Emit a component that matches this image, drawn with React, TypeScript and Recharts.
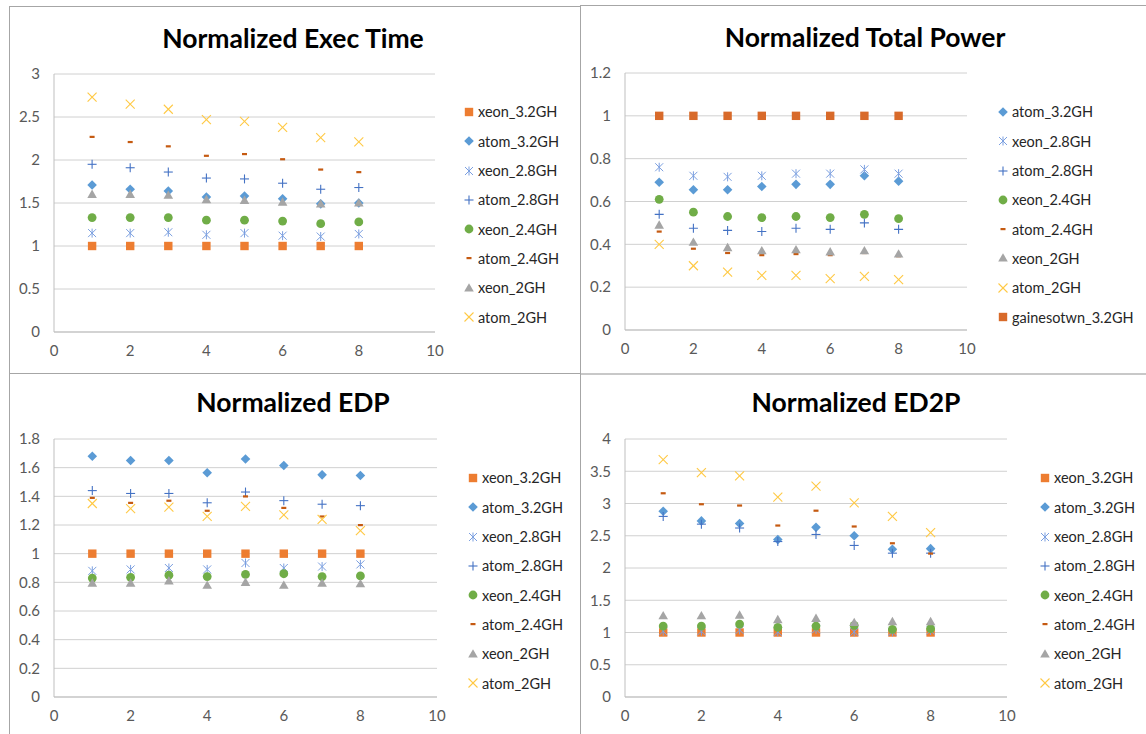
import React from "react";
import { ScatterChart, Scatter, XAxis, YAxis, CartesianGrid, Legend } from "recharts";

const FONT = "Lato, 'Open Sans', sans-serif";

// run index (x axis)
const runs = [1, 2, 3, 4, 5, 6, 7, 8];
const xTicks = [0, 2, 4, 6, 8, 10];

// Normalized Exec Time
const execXeon32 = [1, 1, 1, 1, 1, 1, 1, 1];
const execAtom32 = [1.71, 1.66, 1.64, 1.57, 1.58, 1.55, 1.49, 1.5];
const execXeon28 = [1.15, 1.15, 1.16, 1.13, 1.15, 1.12, 1.11, 1.14];
const execAtom28 = [1.95, 1.91, 1.86, 1.79, 1.78, 1.73, 1.66, 1.68];
const execXeon24 = [1.33, 1.33, 1.33, 1.3, 1.3, 1.29, 1.26, 1.28];
const execAtom24 = [2.27, 2.21, 2.16, 2.05, 2.07, 2.01, 1.89, 1.86];
const execXeon2 = [1.6, 1.6, 1.59, 1.54, 1.53, 1.51, 1.49, 1.5];
const execAtom2 = [2.73, 2.65, 2.59, 2.47, 2.45, 2.38, 2.26, 2.21];
const execTicks = [0, 0.5, 1, 1.5, 2, 2.5, 3];

// Normalized Total Power
const powAtom32 = [0.69, 0.655, 0.655, 0.67, 0.68, 0.68, 0.72, 0.695];
const powXeon28 = [0.76, 0.72, 0.715, 0.72, 0.73, 0.73, 0.75, 0.73];
const powAtom28 = [0.54, 0.475, 0.465, 0.46, 0.475, 0.47, 0.5, 0.47];
const powXeon24 = [0.61, 0.55, 0.53, 0.525, 0.53, 0.525, 0.54, 0.52];
const powAtom24 = [0.46, 0.38, 0.36, 0.35, 0.355, 0.35, 0.36, 0.345];
const powXeon2 = [0.49, 0.41, 0.385, 0.37, 0.375, 0.365, 0.37, 0.355];
const powAtom2 = [0.4, 0.3, 0.27, 0.255, 0.255, 0.24, 0.25, 0.235];
const powGaines32 = [1, 1, 1, 1, 1, 1, 1, 1];
const powTicks = [0, 0.2, 0.4, 0.6, 0.8, 1, 1.2];

// Normalized EDP
const edpXeon32 = [1, 1, 1, 1, 1, 1, 1, 1];
const edpAtom32 = [1.68, 1.65, 1.65, 1.565, 1.66, 1.615, 1.55, 1.545];
const edpXeon28 = [0.88, 0.89, 0.9, 0.89, 0.935, 0.9, 0.91, 0.925];
const edpAtom28 = [1.44, 1.42, 1.42, 1.355, 1.43, 1.37, 1.345, 1.335];
const edpXeon24 = [0.83, 0.835, 0.85, 0.84, 0.855, 0.86, 0.84, 0.845];
const edpAtom24 = [1.39, 1.355, 1.37, 1.3, 1.4, 1.32, 1.26, 1.2];
const edpXeon2 = [0.795, 0.795, 0.81, 0.78, 0.8, 0.78, 0.795, 0.79];
const edpAtom2 = [1.35, 1.315, 1.325, 1.26, 1.33, 1.27, 1.24, 1.16];
const edpTicks = [0, 0.2, 0.4, 0.6, 0.8, 1, 1.2, 1.4, 1.6, 1.8];

// Normalized ED2P
const ed2pXeon32 = [1, 1, 1, 1, 1, 1, 1, 1];
const ed2pAtom32 = [2.88, 2.73, 2.69, 2.44, 2.63, 2.5, 2.29, 2.3];
const ed2pXeon28 = [1.02, 1.02, 1.04, 1.01, 1.05, 1.01, 1.01, 1.03];
const ed2pAtom28 = [2.8, 2.68, 2.62, 2.41, 2.52, 2.35, 2.23, 2.23];
const ed2pXeon24 = [1.1, 1.1, 1.13, 1.08, 1.1, 1.11, 1.05, 1.06];
const ed2pAtom24 = [3.16, 2.99, 2.97, 2.66, 2.89, 2.645, 2.385, 2.225];
const ed2pXeon2 = [1.26, 1.26, 1.27, 1.2, 1.22, 1.155, 1.17, 1.17];
const ed2pAtom2 = [3.68, 3.48, 3.43, 3.1, 3.27, 3.01, 2.8, 2.55];
const ed2pTicks = [0, 0.5, 1, 1.5, 2, 2.5, 3, 3.5, 4];

type Kind = "square" | "diamond" | "asterisk" | "plus" | "circle" | "dash" | "triangle" | "cross";

interface Series {
  name: string;
  kind: Kind;
  color: string;
  values: number[];
}

const XEON32 = { name: "xeon_3.2GH", kind: "square" as Kind, color: "#ED7D31" };
const ATOM32 = { name: "atom_3.2GH", kind: "diamond" as Kind, color: "#5B9BD5" };
const XEON28 = { name: "xeon_2.8GH", kind: "asterisk" as Kind, color: "#7B9FE0" };
const ATOM28 = { name: "atom_2.8GH", kind: "plus" as Kind, color: "#4472C4" };
const XEON24 = { name: "xeon_2.4GH", kind: "circle" as Kind, color: "#70AD47" };
const ATOM24 = { name: "atom_2.4GH", kind: "dash" as Kind, color: "#C55A11" };
const XEON2 = { name: "xeon_2GH", kind: "triangle" as Kind, color: "#A5A5A5" };
const ATOM2 = { name: "atom_2GH", kind: "cross" as Kind, color: "#FFC944" };
const GAINES32 = { name: "gainesotwn_3.2GH", kind: "square" as Kind, color: "#D86A2A" };

// draws one Excel-style marker centred on (x, y)
const Marker = ({ kind, color, x, y }: { kind: Kind; color: string; x: number; y: number }) => {
  switch (kind) {
    case "square":
      return <rect x={x - 4.2} y={y - 4.2} width={8.4} height={8.4} fill={color} />;
    case "diamond":
      return <polygon points={`${x},${y - 4.8} ${x + 4.8},${y} ${x},${y + 4.8} ${x - 4.8},${y}`} fill={color} />;
    case "circle":
      return <circle cx={x} cy={y} r={4.4} fill={color} />;
    case "triangle":
      return <polygon points={`${x},${y - 4.8} ${x + 4.8},${y + 3.6} ${x - 4.8},${y + 3.6}`} fill={color} />;
    case "dash":
      return <rect x={x - 2.5} y={y - 1} width={5} height={2.2} fill={color} />;
    case "plus":
      return (
        <g stroke={color} strokeWidth={1.1}>
          <line x1={x - 4.5} y1={y} x2={x + 4.5} y2={y} />
          <line x1={x} y1={y - 4.5} x2={x} y2={y + 4.5} />
        </g>
      );
    case "cross":
      return (
        <g stroke={color} strokeWidth={1.1}>
          <line x1={x - 4.5} y1={y - 4.5} x2={x + 4.5} y2={y + 4.5} />
          <line x1={x - 4.5} y1={y + 4.5} x2={x + 4.5} y2={y - 4.5} />
        </g>
      );
    case "asterisk":
      return (
        <g stroke={color} strokeWidth={1}>
          <line x1={x - 4} y1={y - 4} x2={x + 4} y2={y + 4} />
          <line x1={x - 4} y1={y + 4} x2={x + 4} y2={y - 4} />
          <line x1={x} y1={y - 4.5} x2={x} y2={y + 4.5} />
        </g>
      );
  }
  return null;
};

interface PanelProps {
  title: string;
  left: number;
  top: number;
  width: number;
  height: number;
  plotTop: number;
  plotRight: number;
  plotBottom: number;
  titleX: number;
  titleY: number;
  legendX: number;
  legendY: number;
  yTicks: number[];
  series: Series[];
}

const ROW = 29.3;

const Panel = (p: PanelProps) => {
  const legendBox = () => (
    <div style={{ fontFamily: FONT, fontSize: 14.5, color: "#262626" }}>
      {p.series.map((s) => (
        <div key={s.name} style={{ height: ROW, display: "flex", alignItems: "center", whiteSpace: "nowrap" }}>
          <svg width={12} height={12} style={{ marginRight: 3 }}>
            <Marker kind={s.kind} color={s.color} x={6} y={6} />
          </svg>
          <span>{s.name}</span>
        </div>
      ))}
    </div>
  );

  return (
    <div style={{ position: "absolute", left: p.left, top: p.top, width: p.width, height: p.height }}>
      <div
        style={{
          position: "absolute",
          left: p.titleX - 220,
          width: 440,
          top: p.titleY - 17,
          lineHeight: "34px",
          textAlign: "center",
          fontFamily: FONT,
          fontWeight: 700,
          fontSize: 26.5,
          color: "#000",
        }}
      >
        {p.title}
      </div>
      <ScatterChart
        width={p.width}
        height={p.height}
        margin={{ top: p.plotTop, right: p.width - p.plotRight, left: 0, bottom: p.height - p.plotBottom - 30 }}
      >
        <CartesianGrid horizontal vertical={false} stroke="#D0D0D0" />
        <XAxis
          type="number"
          dataKey="x"
          domain={[0, 10]}
          ticks={xTicks}
          height={30}
          tickLine={false}
          tickMargin={7}
          axisLine={{ stroke: "#BFBFBF" }}
          tick={{ fontSize: 15, fill: "#595959", fontFamily: FONT }}
          allowDataOverflow
        />
        <YAxis
          type="number"
          dataKey="y"
          domain={[p.yTicks[0], p.yTicks[p.yTicks.length - 1]]}
          ticks={p.yTicks}
          width={45}
          tickLine={false}
          tickMargin={8}
          axisLine={{ stroke: "#BFBFBF" }}
          tick={{ fontSize: 15, fill: "#595959", fontFamily: FONT }}
        />
        <Legend
          layout="vertical"
          align="center"
          verticalAlign="middle"
          content={legendBox}
          wrapperStyle={{ position: "absolute", left: p.legendX, top: p.legendY - ROW / 2, width: 160 }}
        />
        {p.series.map((s) => (
          <Scatter
            key={s.name}
            name={s.name}
            data={runs.map((x, i) => ({ x, y: s.values[i] }))}
            fill={s.color}
            isAnimationActive={false}
            shape={(sp: any) => <Marker kind={s.kind} color={s.color} x={sp.cx} y={sp.cy} />}
          />
        ))}
      </ScatterChart>
    </div>
  );
};

const execSeries: Series[] = [
  { ...XEON32, values: execXeon32 },
  { ...ATOM32, values: execAtom32 },
  { ...XEON28, values: execXeon28 },
  { ...ATOM28, values: execAtom28 },
  { ...XEON24, values: execXeon24 },
  { ...ATOM24, values: execAtom24 },
  { ...XEON2, values: execXeon2 },
  { ...ATOM2, values: execAtom2 },
];

const powerSeries: Series[] = [
  { ...ATOM32, values: powAtom32 },
  { ...XEON28, values: powXeon28 },
  { ...ATOM28, values: powAtom28 },
  { ...XEON24, values: powXeon24 },
  { ...ATOM24, values: powAtom24 },
  { ...XEON2, values: powXeon2 },
  { ...ATOM2, values: powAtom2 },
  { ...GAINES32, values: powGaines32 },
];

const edpSeries: Series[] = [
  { ...XEON32, values: edpXeon32 },
  { ...ATOM32, values: edpAtom32 },
  { ...XEON28, values: edpXeon28 },
  { ...ATOM28, values: edpAtom28 },
  { ...XEON24, values: edpXeon24 },
  { ...ATOM24, values: edpAtom24 },
  { ...XEON2, values: edpXeon2 },
  { ...ATOM2, values: edpAtom2 },
];

const ed2pSeries: Series[] = [
  { ...XEON32, values: ed2pXeon32 },
  { ...ATOM32, values: ed2pAtom32 },
  { ...XEON28, values: ed2pXeon28 },
  { ...ATOM28, values: ed2pAtom28 },
  { ...XEON24, values: ed2pXeon24 },
  { ...ATOM24, values: ed2pAtom24 },
  { ...XEON2, values: ed2pXeon2 },
  { ...ATOM2, values: ed2pAtom2 },
];

const BORDER = "1px solid #A6A6A6";

export default function App() {
  return (
    <div
      style={{
        position: "absolute",
        left: 0,
        top: 0,
        width: 1146,
        height: 734,
        overflow: "hidden",
        background: "#fff",
      }}
    >
      {/* panel frames */}
      <div style={{ position: "absolute", left: 9, top: 6, width: 571, height: 367, borderLeft: BORDER, borderTop: BORDER }} />
      <div style={{ position: "absolute", left: 580, top: 5, width: 580, height: 367, borderLeft: BORDER, borderTop: BORDER, borderBottom: "2px solid #C8C8C8" }} />
      <div style={{ position: "absolute", left: 9, top: 373, width: 571, height: 380, borderLeft: BORDER, borderTop: BORDER }} />
      <div style={{ position: "absolute", left: 580, top: 373, width: 580, height: 380, borderLeft: BORDER }} />

      <Panel
        title="Normalized Exec Time"
        left={9}
        top={6}
        width={571}
        height={367}
        plotTop={68}
        plotRight={426}
        plotBottom={326}
        titleX={284}
        titleY={32}
        legendX={454}
        legendY={106}
        yTicks={execTicks}
        series={execSeries}
      />
      <Panel
        title="Normalized Total Power"
        left={580}
        top={5}
        width={566}
        height={367}
        plotTop={68}
        plotRight={387}
        plotBottom={325}
        titleX={285}
        titleY={32}
        legendX={417}
        legendY={107}
        yTicks={powTicks}
        series={powerSeries}
      />
      <Panel
        title="Normalized EDP"
        left={9}
        top={373}
        width={571}
        height={361}
        plotTop={66}
        plotRight={428}
        plotBottom={324}
        titleX={284}
        titleY={29}
        legendX={458}
        legendY={105}
        yTicks={edpTicks}
        series={edpSeries}
      />
      <Panel
        title="Normalized ED2P"
        left={580}
        top={373}
        width={566}
        height={361}
        plotTop={66}
        plotRight={427}
        plotBottom={324}
        titleX={276}
        titleY={29}
        legendX={459}
        legendY={105}
        yTicks={ed2pTicks}
        series={ed2pSeries}
      />
    </div>
  );
}
